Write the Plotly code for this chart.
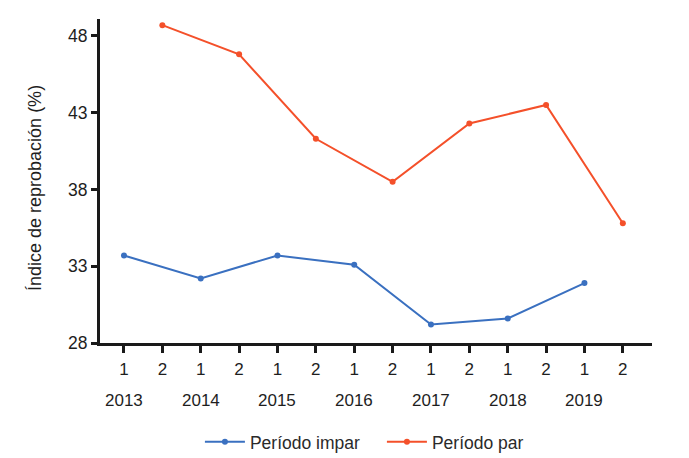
import plotly.graph_objects as go

years = ["2013", "2014", "2015", "2016", "2017", "2018", "2019"]
periods = ["1", "2"]
impar_values = [33.7, 32.2, 33.7, 33.1, 29.2, 29.6, 31.9]
par_values = [48.7, 46.8, 41.3, 38.5, 42.3, 43.5, 35.8]
y_ticks = [28, 33, 38, 43, 48]
y_title = "Índice de reprobación (%)"

n = len(years) * len(periods)
tick_pos = list(range(n))
tick_text = [p for _ in years for p in periods]
impar_x = [i * 2 for i in range(len(years))]
par_x = [i * 2 + 1 for i in range(len(years))]

blue = "#3A70C0"
red = "#F4502A"
font = "Liberation Sans, Arial, sans-serif"
txt = "#1e1e1e"

fig = go.Figure()
fig.add_trace(go.Scatter(x=impar_x, y=impar_values, mode="lines+markers",
                         name="Período impar",
                         line=dict(color=blue, width=2),
                         marker=dict(color=blue, size=6)))
fig.add_trace(go.Scatter(x=par_x, y=par_values, mode="lines+markers",
                         name="Período par",
                         line=dict(color=red, width=2),
                         marker=dict(color=red, size=6)))

for i, yr in enumerate(years):
    fig.add_annotation(x=i * 2, y=-0.176, xref="x", yref="paper", text=yr,
                       showarrow=False, yanchor="middle",
                       font=dict(family=font, size=17, color=txt))

fig.add_annotation(x=-0.118, y=0.478, xref="paper", yref="paper", text=y_title,
                   textangle=-90, showarrow=False, xanchor="center", yanchor="middle",
                   font=dict(family=font, size=18, color=txt))

fig.update_layout(
    width=681, height=450,
    margin=dict(l=92, r=37, t=11, b=115),
    paper_bgcolor="white", plot_bgcolor="white",
    font=dict(family=font, size=17, color=txt),
    showlegend=True,
    legend=dict(orientation="h", x=0.181, xanchor="left", y=0.0356,
                yref="container", yanchor="middle",
                itemwidth=40, entrywidth=127, entrywidthmode="pixels",
                font=dict(family=font, size=17.5, color="#2a2a2a")),
    xaxis=dict(range=[-0.625, 13.76], tickmode="array", tickvals=tick_pos,
               ticktext=tick_text, showline=True, linecolor="#1a1a1a", linewidth=3,
               ticks="outside", ticklen=7, tickwidth=3, tickcolor="#1a1a1a",
               showgrid=False, zeroline=False, ticklabelstandoff=2,
               automargin=False,
               tickfont=dict(family=font, size=17, color=txt)),
    yaxis=dict(range=[28, 49.1], tickmode="array", tickvals=y_ticks,
               showline=True, linecolor="#1a1a1a", linewidth=3,
               ticks="outside", ticklen=6, tickwidth=3, tickcolor="#1a1a1a",
               showgrid=False, zeroline=False, automargin=False,
               tickfont=dict(family=font, size=17.5, color=txt)),
)

fig.write_html("out.html")
